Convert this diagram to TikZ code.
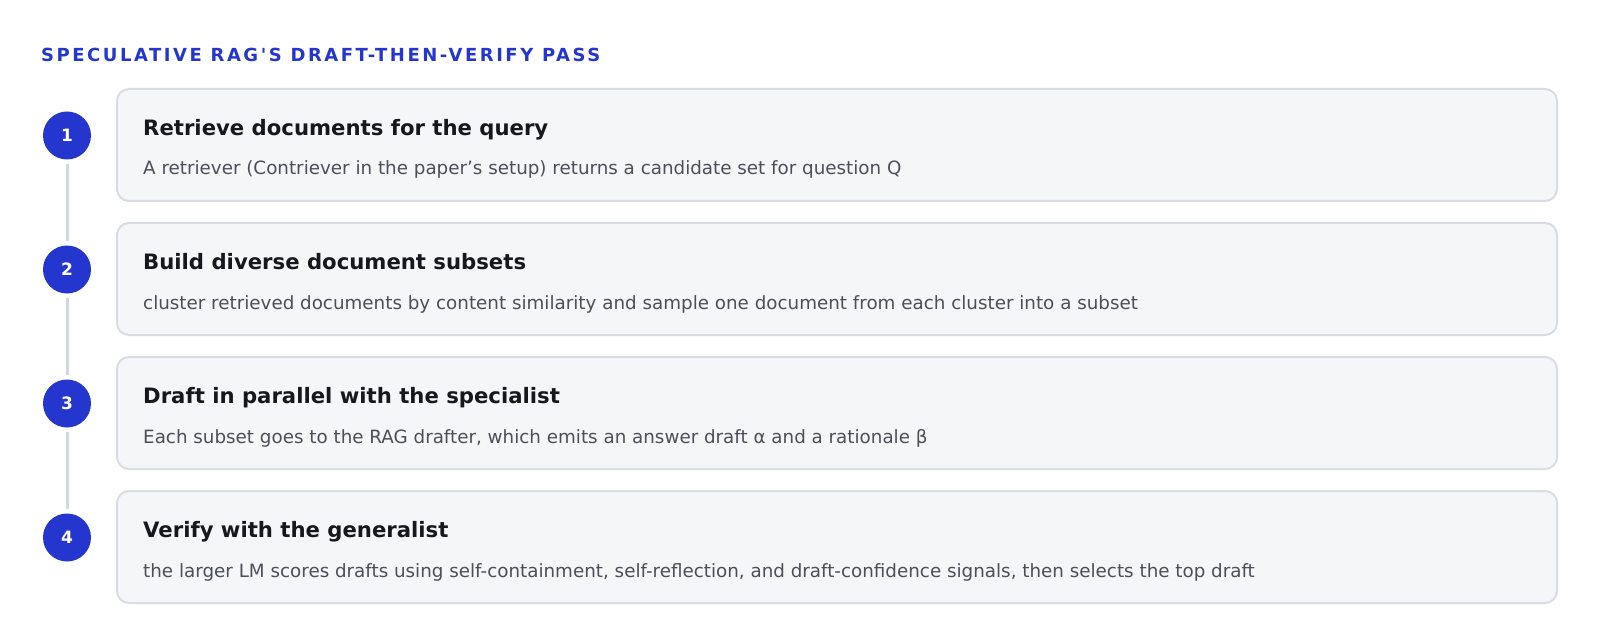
\documentclass[tikz,border=0pt]{standalone}
\usepackage{fontspec}
\setmainfont{DejaVu Sans}
\newfontfamily\titlefont[LetterSpace=14]{DejaVu Sans}
\definecolor{accent}{HTML}{2536CF}
\definecolor{boxfill}{HTML}{F5F6F8}
\definecolor{boxline}{HTML}{D9DCE3}
\definecolor{railcol}{HTML}{D3D7DF}
\definecolor{headcol}{HTML}{16181D}
\definecolor{subcol}{HTML}{4A4F58}
\tikzset{
  stepbox/.style={draw=boxline, line width=2pt, fill=boxfill, rounded corners=12pt,
    minimum width=1440pt, minimum height=112pt, inner sep=0pt},
  numdot/.style={circle, fill=accent, minimum size=48pt, inner sep=0pt,
    text=white, font=\fontsize{17}{17}\selectfont\bfseries},
  rail/.style={draw=railcol, line width=3pt, shorten >=4pt, shorten <=4pt},
  headtext/.style={anchor=base west, inner sep=0pt, text=headcol,
    font=\fontsize{21.2}{21.2}\selectfont\bfseries},
  subtext/.style={anchor=base west, inner sep=0pt, text=subcol,
    font=\fontsize{18.3}{18.3}\selectfont},
  titletext/.style={anchor=base west, inner sep=0pt, text=accent,
    font=\fontsize{18}{18}\selectfont\titlefont\bfseries}
}
\begin{document}
\begin{tikzpicture}[x=1pt, y=-1pt]
\useasboundingbox (0,0) rectangle (1600,644);
\node[titletext] (title) at (41,61.5) {SPECULATIVE RAG'S DRAFT-THEN-VERIFY PASS};

\node[stepbox] (b1) at (837,145) {};
\node[stepbox] (b2) at (837,279) {};
\node[stepbox] (b3) at (837,413) {};
\node[stepbox] (b4) at (837,547) {};

\node[numdot] (c1) at (67,135.5) {1};
\node[numdot] (c2) at (67,269.5) {2};
\node[numdot] (c3) at (67,403.5) {3};
\node[numdot] (c4) at (67,537.5) {4};

\draw[rail] (c1.south) -- (c2.north);
\draw[rail] (c2.south) -- (c3.north);
\draw[rail] (c3.south) -- (c4.north);

\node[headtext] (h1) at (143,135.7) {Retrieve documents for the query};
\node[subtext] (s1) at (143,175) {A retriever (Contriever in the paper’s setup) returns a candidate set for question Q};
\node[headtext] (h2) at (143,269.7) {Build diverse document subsets};
\node[subtext] (s2) at (143,309) {cluster retrieved documents by content similarity and sample one document from each cluster into a subset};
\node[headtext] (h3) at (143,403.7) {Draft in parallel with the specialist};
\node[subtext] (s3) at (143,443) {Each subset goes to the RAG drafter, which emits an answer draft α and a rationale β};
\node[headtext] (h4) at (143,537.7) {Verify with the generalist};
\node[subtext] (s4) at (143,577) {the larger LM scores drafts using self-containment, self-reflection, and draft-confidence signals, then selects the top draft};
\end{tikzpicture}
\end{document}
